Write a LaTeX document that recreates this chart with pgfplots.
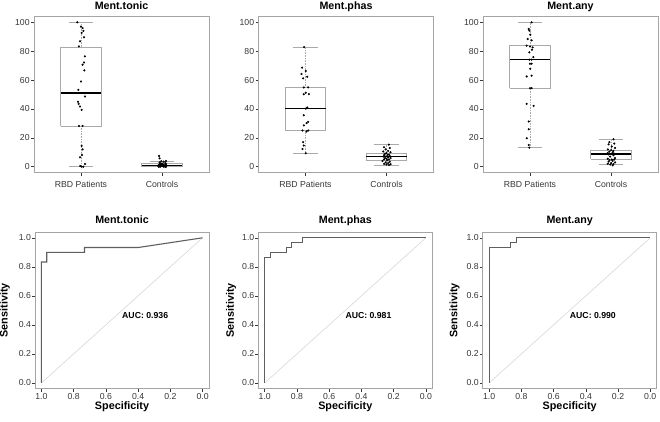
\documentclass[border=0pt]{standalone}
\usepackage{fontspec}
\setmainfont{Liberation Sans}
\usepackage{pgfplots}
\pgfplotsset{compat=1.18}
\definecolor{framegray}{RGB}{165,165,165}
\definecolor{labgray}{RGB}{55,55,55}
\definecolor{rocgray}{RGB}{95,95,95}
\definecolor{diaggray}{RGB}{215,215,215}
\definecolor{boxgray}{RGB}{170,170,170}
\tikzset{auc/.style={font=\bfseries\fontsize{8.7}{10}\selectfont, anchor=north west, inner sep=0pt, yshift=-2pt}}
\pgfplotsset{
  every axis title shift=0pt,
  common/.style={scale only axis, axis line style={framegray, line width=0.7pt},
    tick style={labgray, line width=0.5pt}, tick align=outside, major tick length=3pt,
    xtick pos=bottom, ytick pos=left,
    ticklabel style={font=\fontsize{8.7}{9}\selectfont, text=labgray},
    title style={font=\bfseries\fontsize{10.7}{12}\selectfont, at={(axis description cs:0.5,1)}, anchor=base, inner sep=0pt}},
  top/.style={common, width=175pt, height=156pt, xmin=0.42, xmax=2.58, ymin=-4, ymax=104,
    xtick={1,2}, xticklabels={RBD Patients, Controls},
    ytick={0,20,40,60,80,100}, yticklabels={0,20,40,60,80,100},
    title style={yshift=7pt},
    xticklabel style={anchor=base, inner sep=0pt, yshift=-11.5pt},
    yticklabel style={anchor=east, inner sep=0pt, xshift=-1.2pt}},
  bot/.style={common, width=174pt, height=156.7pt, x dir=reverse, xmin=-0.04, xmax=1.04, ymin=-0.04, ymax=1.04,
    xtick={0,0.2,0.4,0.6,0.8,1}, xticklabels={0.0,0.2,0.4,0.6,0.8,1.0},
    ytick={0,0.2,0.4,0.6,0.8,1}, yticklabels={0.0,0.2,0.4,0.6,0.8,1.0},
    title style={yshift=8.7pt},
    xticklabel style={anchor=base, inner sep=0pt, yshift=-8pt},
    yticklabel style={anchor=east, inner sep=0pt, xshift=-0.8pt},
    xlabel={Specificity}, ylabel={Sensitivity},
    xlabel style={font=\bfseries\fontsize{10.8}{12}\selectfont, at={(axis description cs:0.5,0)}, anchor=base, yshift=-20.8pt, inner sep=0pt},
    ylabel style={font=\bfseries\fontsize{10.8}{12}\selectfont, anchor=center, inner sep=0pt}},
  whisk/.style={boxgray, line width=0.6pt, densely dotted},
  capl/.style={boxgray, line width=0.7pt},
  boxl/.style={boxgray, line width=0.7pt, line join=miter},
  medl/.style={black, line width=1.5pt},
  pts/.style={only marks, mark=*, mark size=0.85pt, black, mark options={fill=black, draw=black}},
  rocl/.style={rocgray, line width=1.1pt},
  diagl/.style={diaggray, line width=0.6pt}
}
\begin{document}
\begin{tikzpicture}
\useasboundingbox (0,0) rectangle (660pt,421pt);
% ---------------- Top 1
\begin{axis}[top, at={(34pt,248.5pt)}, anchor=south west, title={Ment.tonic}]
\addplot[whisk] coordinates {(1,0) (1,28.2)};
\addplot[whisk] coordinates {(1,82.9) (1,100)};
\addplot[capl] coordinates {(0.85,0) (1.15,0)};
\addplot[capl] coordinates {(0.85,100) (1.15,100)};
\addplot[boxl] coordinates {(0.75,28.2) (1.25,28.2) (1.25,82.9) (0.75,82.9) (0.75,28.2)};
\addplot[medl] coordinates {(0.75,50.9) (1.25,50.9)};
\addplot[whisk] coordinates {(2,2) (2,4)};
\addplot[capl] coordinates {(1.85,4) (2.15,4)};
\addplot[capl] coordinates {(1.85,0) (2.15,0)};
\addplot[boxl] coordinates {(1.75,0) (2.25,0) (2.25,2) (1.75,2) (1.75,0)};
\addplot[medl] coordinates {(1.75,1) (2.25,1)};
\addplot[pts] coordinates {(0.955,100) (1.02,96) (1.008,92.6) (1.037,89.6) (0.988,86.8) (0.975,83.3) (1.049,76.4) (1.037,72.2) (1.02,70.6) (1.041,66.7) (1.0,59) (0.967,53.2) (1.041,51) (1.049,48.6) (0.963,45) (0.971,43.5) (0.988,41.7) (1.008,39.4) (0.975,28.2) (1.02,28.2) (1.008,14.4) (1.02,12) (1.012,8.1) (0.988,6.5) (1.049,1.9) (1.008,0) (1.029,0) (1.03,94) (1.0,97) (0.99,0.5)};
\addplot[pts] coordinates {(1.96,0) (2.02,0) (2.04,0) (1.98,0) (2.05,0) (1.97,0.2) (2.01,0.4) (2.03,0.5) (1.99,0.6) (2.05,0.8) (1.96,1) (2.0,1) (2.04,1.1) (1.98,1.3) (2.02,1.5) (1.97,1.6) (2.05,1.8) (2.0,2) (1.98,2.2) (2.03,0.3) (1.95,0.7) (2.01,1.2) (1.99,1.9) (2.04,2.5) (1.97,3) (2.02,3.5) (1.99,3.8) (2.05,4) (1.97,5.8) (1.963,7.5)};
\end{axis}
% ---------------- Top 2
\begin{axis}[top, at={(258.5pt,248.5pt)}, anchor=south west, title={Ment.phas}]
\addplot[whisk] coordinates {(1,9.3) (1,25.1)};
\addplot[whisk] coordinates {(1,54.9) (1,82.8)};
\addplot[capl] coordinates {(0.85,9.3) (1.15,9.3)};
\addplot[capl] coordinates {(0.85,82.8) (1.15,82.8)};
\addplot[boxl] coordinates {(0.75,25.1) (1.25,25.1) (1.25,54.9) (0.75,54.9) (0.75,25.1)};
\addplot[medl] coordinates {(0.75,40.2) (1.25,40.2)};
\addplot[whisk] coordinates {(2,1.2) (2,4.2)};
\addplot[whisk] coordinates {(2,9.3) (2,15.3)};
\addplot[capl] coordinates {(1.85,1.2) (2.15,1.2)};
\addplot[capl] coordinates {(1.85,15.3) (2.15,15.3)};
\addplot[boxl] coordinates {(1.75,4.2) (2.25,4.2) (2.25,9.3) (1.75,9.3) (1.75,4.2)};
\addplot[medl] coordinates {(1.75,7.2) (2.25,7.2)};
\addplot[pts] coordinates {(0.983,82.8) (0.958,68.6) (1.004,66.3) (0.95,64.2) (1.021,62.3) (0.971,61.2) (1.033,54.9) (0.979,54.9) (1.004,51.2) (0.979,50.2) (1.042,50.2) (1.021,41) (1.004,40.2) (0.979,35.6) (1.033,31) (1.013,30.2) (0.979,28.6) (1.033,25.1) (0.963,25.1) (1.013,24.4) (0.971,17) (0.979,14.7) (0.963,12.3) (1.004,9.3)};
\addplot[pts] coordinates {(2.03,15.3) (1.97,13.5) (2.04,13) (1.99,12) (2.02,11) (1.96,10.5) (2.05,10) (2.0,9.5) (1.98,9) (2.03,8.5) (1.97,8) (2.01,8) (2.04,7.5) (1.99,7) (1.96,7) (2.02,6.5) (2.05,6) (1.98,6) (2.0,5.5) (2.03,5) (1.97,5) (2.01,4.5) (1.95,4) (2.04,3.5) (1.99,3) (2.02,2.5) (1.97,2) (2.05,1.8) (2.0,1.5) (2.03,1.2)};
\end{axis}
% ---------------- Top 3
\begin{axis}[top, at={(483pt,248.5pt)}, anchor=south west, title={Ment.any}]
\addplot[whisk] coordinates {(1,13.4) (1,54.4)};
\addplot[whisk] coordinates {(1,83.8) (1,100)};
\addplot[capl] coordinates {(0.85,13.4) (1.15,13.4)};
\addplot[capl] coordinates {(0.85,100) (1.15,100)};
\addplot[boxl] coordinates {(0.75,54.4) (1.25,54.4) (1.25,83.8) (0.75,83.8) (0.75,54.4)};
\addplot[medl] coordinates {(0.75,74.1) (1.25,74.1)};
\addplot[whisk] coordinates {(2,1.9) (2,5.1)};
\addplot[whisk] coordinates {(2,11.1) (2,19)};
\addplot[capl] coordinates {(1.85,1.9) (2.15,1.9)};
\addplot[capl] coordinates {(1.85,19) (2.15,19)};
\addplot[boxl] coordinates {(1.75,5.1) (2.25,5.1) (2.25,11.1) (1.75,11.1) (1.75,5.1)};
\addplot[medl] coordinates {(1.75,8.8) (2.25,8.8)};
\addplot[pts] coordinates {(1.02,100) (0.984,95.4) (0.992,94.2) (1.004,91.4) (0.971,88.4) (1.02,87.5) (0.959,83.8) (1.0,83.3) (1.033,82.6) (1.025,81) (0.992,79.2) (1.041,75.9) (0.992,74.1) (1.02,74.1) (1.0,71.3) (1.02,71.3) (1.004,67.8) (0.959,62.5) (1.02,63) (1.0,54.4) (1.02,54.4) (0.959,43.5) (1.045,42.1) (0.984,31.3) (0.984,25.9) (0.959,19.7) (0.984,15) (0.992,13.2)};
\addplot[pts] coordinates {(2.03,19) (1.98,17) (2.04,16) (1.97,15.5) (2.01,14) (2.05,13) (1.96,12) (2.0,11.5) (2.03,11) (1.98,10.5) (2.02,10) (1.96,9.5) (2.04,9) (2.0,8.8) (1.97,8.5) (2.03,8) (1.99,7) (2.05,6) (1.96,5.5) (2.01,5) (2.04,5) (1.98,4.5) (2.02,4) (1.97,3.5) (2.05,3) (2.0,2.5) (1.96,2) (2.03,1.9) (1.99,1.5) (2.02,1)};
\end{axis}
% ---------------- Bottom 1
\begin{axis}[bot, at={(35pt,32.3pt)}, anchor=south west, title={Ment.tonic},
  ylabel style={at={(axis description cs:-0.173,0.5)}}]
\addplot[diagl] coordinates {(1,0) (0,1)};
\addplot[rocl] coordinates {(1,0) (1,0.833) (0.967,0.833) (0.967,0.9) (0.733,0.9) (0.733,0.933) (0.4,0.933) (0,1)};
\node[auc] at (axis cs:0.5,0.5) {AUC: 0.936};
\end{axis}
% ---------------- Bottom 2
\begin{axis}[bot, at={(258.3pt,32.3pt)}, anchor=south west, title={Ment.phas},
  ylabel style={at={(axis description cs:-0.156,0.5)}}]
\addplot[diagl] coordinates {(1,0) (0,1)};
\addplot[rocl] coordinates {(1,0) (1,0.867) (0.967,0.867) (0.967,0.9) (0.867,0.9) (0.867,0.933) (0.833,0.933) (0.833,0.967) (0.767,0.967) (0.767,1) (0,1)};
\node[auc] at (axis cs:0.5,0.5) {AUC: 0.981};
\end{axis}
% ---------------- Bottom 3
\begin{axis}[bot, at={(482.7pt,32.3pt)}, anchor=south west, title={Ment.any},
  ylabel style={at={(axis description cs:-0.161,0.5)}}]
\addplot[diagl] coordinates {(1,0) (0,1)};
\addplot[rocl] coordinates {(1,0) (1,0.933) (0.867,0.933) (0.867,0.967) (0.833,0.967) (0.833,1) (0,1)};
\node[auc] at (axis cs:0.5,0.5) {AUC: 0.990};
\end{axis}
\end{tikzpicture}
\end{document}
